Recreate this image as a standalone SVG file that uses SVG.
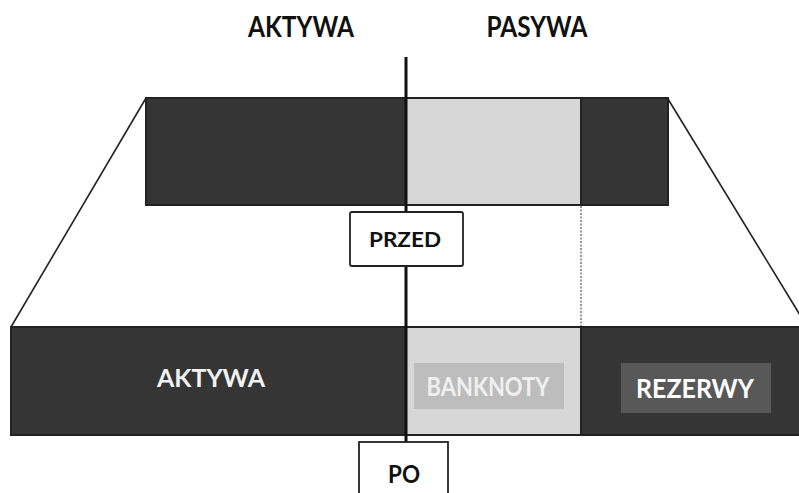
<svg xmlns="http://www.w3.org/2000/svg" width="799" height="493" viewBox="0 0 799 493">
<style>
.dark{fill:#353535;stroke:#222;stroke-width:2}
.light{fill:#d7d7d7;stroke:#222;stroke-width:2}
.t{font-family:Lato,"Open Sans","Liberation Sans",sans-serif;font-weight:bold;text-anchor:middle}
.box{fill:#fff;stroke:#222;stroke-width:1.8}
</style>
<rect width="799" height="493" fill="#fff"/>
<g id="connectors" fill="none" stroke="#222">
<line x1="146" y1="98" x2="11" y2="327" stroke-width="1.6"/>
<line x1="668" y1="99" x2="800" y2="315" stroke-width="1.6"/>
<line x1="581" y1="206" x2="581" y2="327" stroke="#777" stroke-width="1.5" stroke-dasharray="2 1.5"/>
</g>
<g id="top-bar">
<rect class="dark" x="146" y="98" width="260" height="107"/>
<rect class="light" x="406" y="98" width="175" height="107"/>
<rect class="dark" x="581" y="98" width="87" height="107"/>
</g>
<g id="bottom-bar">
<rect class="dark" x="11" y="327" width="395" height="108"/>
<rect class="light" x="406" y="327" width="175" height="108"/>
<rect class="dark" x="581" y="327" width="220" height="108"/>
<text class="t" x="211" y="387" font-size="25" fill="#f2f2f2" textLength="108" lengthAdjust="spacingAndGlyphs">AKTYWA</text>
</g>
<g id="banknoty">
<rect x="414" y="363" width="150" height="46" fill="#bdbdbd"/>
<text class="t" x="488" y="396" font-size="26" fill="#f0f0f0" textLength="123" lengthAdjust="spacingAndGlyphs">BANKNOTY</text>
</g>
<g id="rezerwy">
<rect x="621" y="363" width="150" height="50" fill="#585858"/>
<text class="t" x="695" y="398" font-size="26" fill="#fff" textLength="118" lengthAdjust="spacingAndGlyphs">REZERWY</text>
</g>
<g id="divider">
<line x1="406" y1="57" x2="406" y2="442" stroke="#111" stroke-width="3"/>
</g>
<g id="headers">
<text class="t" x="301" y="37" font-size="28" fill="#111" textLength="106" lengthAdjust="spacingAndGlyphs">AKTYWA</text>
<text class="t" x="537" y="37" font-size="28" fill="#111" textLength="101" lengthAdjust="spacingAndGlyphs">PASYWA</text>
</g>
<g id="przed">
<rect class="box" x="350" y="212" width="113" height="54" rx="2"/>
<text class="t" x="405" y="247" font-size="21" fill="#111" textLength="72" lengthAdjust="spacingAndGlyphs">PRZED</text>
</g>
<g id="po">
<rect class="box" x="359" y="442" width="89" height="60"/>
<text class="t" x="404" y="483" font-size="25" fill="#111" textLength="32" lengthAdjust="spacingAndGlyphs">PO</text>
</g>
</svg>
